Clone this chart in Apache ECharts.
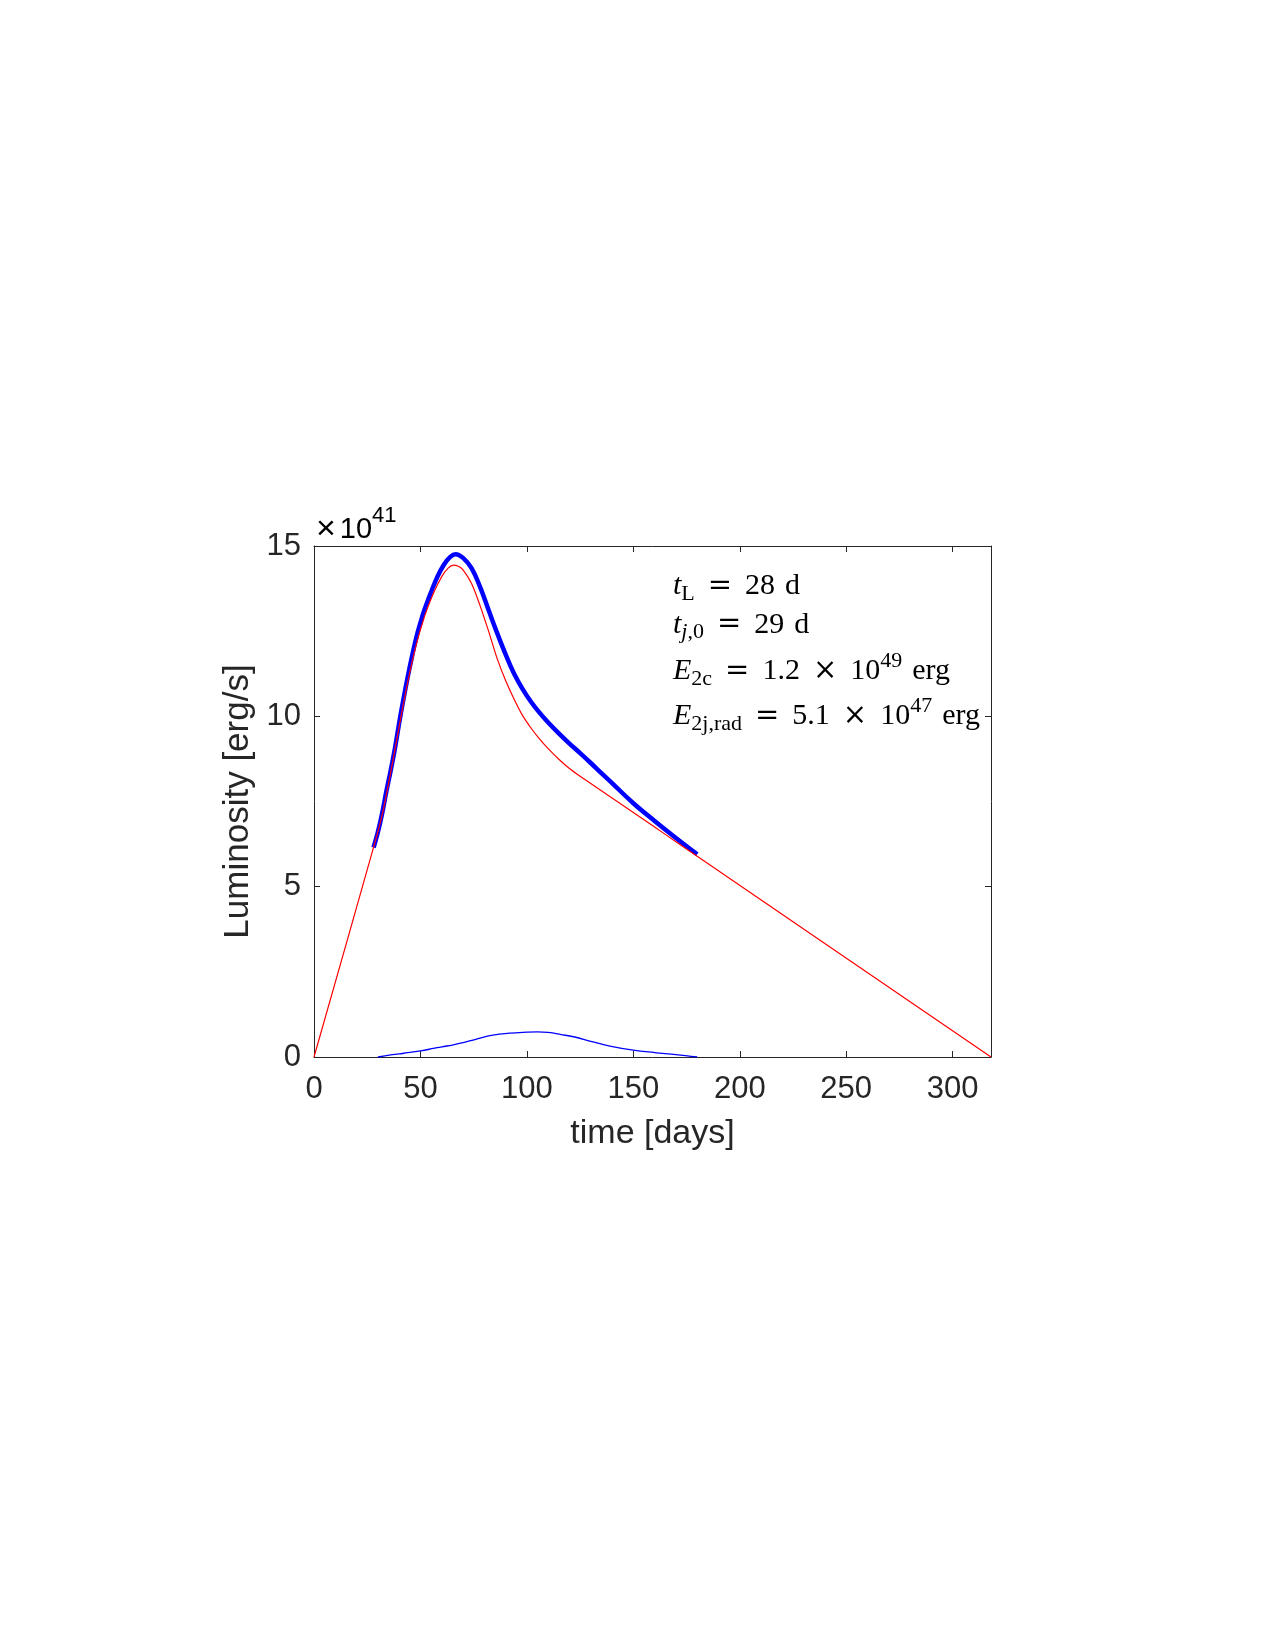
<!DOCTYPE html>
<html>
<head>
<meta charset="utf-8">
<script src="https://cdn.jsdelivr.net/npm/echarts/dist/echarts.min.js"></script>
<style>
  html, body { margin: 0; padding: 0; background: #fff; }
  #chart { width: 1275px; height: 1650px; }
</style>
</head>
<body>
<div id="chart"></div>
<script>
// total luminosity (thick blue)
var totalT = [28, 30, 32, 34, 36, 38, 40, 42, 44, 46, 48, 50, 52, 55, 58, 61, 64, 66.5, 70, 74, 78, 82, 86, 90, 94, 98, 102, 106, 110, 115, 120, 125, 130, 135, 140, 150, 160, 170, 180];
var totalL = [6.15, 6.6, 7.15, 7.8, 8.4, 9.05, 9.8, 10.5, 11.15, 11.75, 12.3, 12.75, 13.15, 13.65, 14.1, 14.45, 14.68, 14.76, 14.65, 14.35, 13.8, 13.12, 12.45, 11.82, 11.25, 10.8, 10.42, 10.1, 9.82, 9.5, 9.2, 8.92, 8.63, 8.33, 8.04, 7.45, 6.93, 6.43, 5.95];

// core luminosity (red)
var coreT = [0, 28, 32, 36, 40, 44, 48, 52, 56, 60, 63, 65.5, 68, 70, 74, 78, 82, 86, 90, 94, 98, 102, 106, 110, 115, 120, 125, 130, 140, 150, 160, 170, 180, 318];
var coreL = [0, 6.16, 7.1, 8.35, 9.7, 11.0, 12.1, 12.95, 13.6, 14.1, 14.35, 14.44, 14.4, 14.3, 13.9, 13.25, 12.5, 11.7, 11.05, 10.5, 10.02, 9.65, 9.33, 9.05, 8.74, 8.47, 8.24, 8.03, 7.6, 7.18, 6.75, 6.32, 5.89, 0];

// jet luminosity (thin blue)
var jetT = [30, 36, 40, 44, 50, 56, 60, 65, 70, 76, 84, 92, 100, 105, 110, 116, 123, 130, 139, 150, 160, 170, 180];
var jetL = [0, 0.06, 0.09, 0.13, 0.18, 0.25, 0.3, 0.35, 0.42, 0.52, 0.64, 0.7, 0.73, 0.74, 0.72, 0.66, 0.58, 0.46, 0.32, 0.2, 0.13, 0.07, 0];

var xTicks = [0, 50, 100, 150, 200, 250, 300];
var yTicks = [0, 5, 10, 15];

function pairs(t, l) {
  var out = [];
  for (var i = 0; i < t.length; i++) out.push([t[i], l[i]]);
  return out;
}

var AX = '#262626';
var SANS = '"Liberation Sans", Arial, sans-serif';
var SERIF = '"Liberation Serif", "DejaVu Serif", serif';
var SP = '\u2004';

var chart = echarts.init(document.getElementById('chart'));

var axisCommon = {
  axisLine: { show: true, onZero: false, lineStyle: { color: AX, width: 1 } },
  axisTick: { show: true, inside: true, length: 6, lineStyle: { color: AX, width: 1 } },
  splitLine: { show: false }
};

function xFmt(v) { return xTicks.indexOf(v) >= 0 ? String(v) : ''; }
function yFmt(v) { return yTicks.indexOf(v) >= 0 ? String(v) : ''; }

var annRich = {
  it: { fontFamily: SERIF, fontStyle: 'italic', fontSize: 30, lineHeight: 40, color: '#000' },
  rm: { fontFamily: SERIF, fontSize: 30, lineHeight: 40, color: '#000' },
  op: { fontFamily: '"DejaVu Serif", serif', fontSize: 29, lineHeight: 40, padding: [0, 3, 0, 3], color: '#000' },
  sub: { fontFamily: SERIF, fontSize: 22, lineHeight: 22, padding: [16, 0, 0, 0], color: '#000' },
  subi: { fontFamily: SERIF, fontStyle: 'italic', fontSize: 22, lineHeight: 22, padding: [16, 0, 0, 0], color: '#000' },
  sup: { fontFamily: SERIF, fontSize: 22, lineHeight: 20, padding: [0, 0, 20, 0], color: '#000' }
};

function annLine(text, cy) {
  return {
    type: 'text', left: 673, top: cy - 20, z: 10,
    style: { text: text, rich: annRich, fill: '#000' }
  };
}

chart.setOption({
  animation: false,
  backgroundColor: '#fff',
  grid: { left: 314, top: 546, width: 677, height: 511 },
  xAxis: [
    Object.assign({
      type: 'value', position: 'bottom', min: 0, max: 318, interval: 50,
      name: 'time [days]', nameLocation: 'middle', nameGap: 60,
      nameTextStyle: { fontFamily: SANS, fontSize: 34, color: AX },
      axisLabel: { formatter: xFmt, fontFamily: SANS, fontSize: 31, color: AX, margin: 17 }
    }, axisCommon),
    Object.assign({
      type: 'value', position: 'top', min: 0, max: 318, interval: 50,
      axisLabel: { show: false }
    }, axisCommon)
  ],
  yAxis: [
    Object.assign({
      type: 'value', position: 'left', min: 0, max: 15, interval: 5,
      name: 'Luminosity [erg/s]', nameLocation: 'middle', nameGap: 56,
      nameTextStyle: { fontFamily: SANS, fontSize: 35, color: AX },
      axisLabel: { formatter: yFmt, fontFamily: SANS, fontSize: 31, color: AX, margin: 13 }
    }, axisCommon),
    Object.assign({
      type: 'value', position: 'right', min: 0, max: 15, interval: 5,
      axisLabel: { show: false }
    }, axisCommon)
  ],
  series: [
    {
      name: 'total', type: 'line', data: pairs(totalT, totalL), smooth: 0.4,
      showSymbol: false, lineStyle: { color: '#0000ff', width: 4.5 }, z: 2
    },
    {
      name: 'core', type: 'line', data: pairs(coreT, coreL), smooth: 0.3,
      showSymbol: false, lineStyle: { color: '#ff0000', width: 1.2 }, z: 3
    },
    {
      name: 'jet', type: 'line', data: pairs(jetT, jetL), smooth: 0.4,
      showSymbol: false, lineStyle: { color: '#0000ff', width: 1.3 }, z: 3
    }
  ],
  graphic: [
    {
      type: 'text', left: 316, top: 505, z: 10,
      style: {
        text: '{x|×}{a|10}{b|41}',
        rich: {
          x: { fontFamily: SANS, fontSize: 34, lineHeight: 40, color: AX, padding: [0, 4, 0, 0] },
          a: { fontFamily: SANS, fontSize: 29, lineHeight: 40, color: AX },
          b: { fontFamily: SANS, fontSize: 22, lineHeight: 12, padding: [0, 0, 28, 0], color: AX }
        }
      }
    },
    annLine('{it|t}{sub|L}{rm|' + SP + '}{op|=}{rm|' + SP + '28' + SP + 'd}', 587.3),
    annLine('{it|t}{subi|j}{sub|,0}{rm|' + SP + '}{op|=}{rm|' + SP + '29' + SP + 'd}', 625.7),
    annLine('{it|E}{sub|2c}{rm|' + SP + '}{op|=}{rm|' + SP + '1.2' + SP + '}{op|×}{rm|' + SP + '10}{sup|49}{rm|' + SP + 'erg}', 670.5),
    annLine('{it|E}{sub|2j,rad}{rm|' + SP + '}{op|=}{rm|' + SP + '5.1' + SP + '}{op|×}{rm|' + SP + '10}{sup|47}{rm|' + SP + 'erg}', 715)
  ]
});
</script>
</body>
</html>
